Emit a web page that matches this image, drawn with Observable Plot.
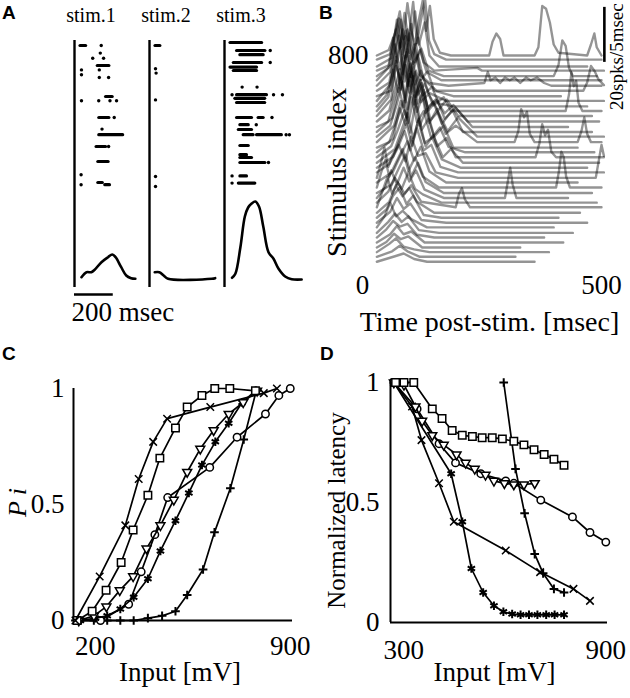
<!DOCTYPE html>
<html><head><meta charset="utf-8">
<script src="https://cdn.jsdelivr.net/npm/d3@7"></script>
<script src="https://cdn.jsdelivr.net/npm/@observablehq/plot@0.6"></script>
<style>
body{margin:0;background:#fff}
#fig{position:relative;width:630px;height:698px;overflow:hidden;background:#fff}
.panel{position:absolute}
.panel svg{overflow:visible}
.lab{position:absolute;font:bold 19px "Liberation Sans",Arial,sans-serif;line-height:1}
</style></head><body><div id="fig"></div>
<script>
// ---------- Panel A data ----------
const stimNames = ["stim.1", "stim.2", "stim.3"];
// bursts of spikes: [stimulus, trial row, first spike (ms), last spike (ms)]
const rasterBursts = [
  ["stim.1", 0, 31, 60], ["stim.1", 5, 120, 180], ["stim.1", 12.75, 163, 197], ["stim.1", 18, 128, 180],
  ["stim.1", 22.3, 128, 251], ["stim.1", 25.25, 114, 163], ["stim.1", 29, 123, 176], ["stim.1", 34.25, 123, 146], ["stim.1", 34.8, 159, 183],
  ["stim.2", 0, 31, 56],
  ["stim.3", -0.75, 31, 194], ["stim.3", 1.25, 65, 211], ["stim.3", 2.3, 82, 202], ["stim.3", 4.25, 48, 194],
  ["stim.3", 5.4, 31, 168], ["stim.3", 6.25, 48, 168], ["stim.3", 12.3, 65, 219], ["stim.3", 13.2, 56, 210],
  ["stim.3", 14.25, 65, 210], ["stim.3", 18, 65, 142], ["stim.3", 18, 176, 202], ["stim.3", 19.8, 82, 125],
  ["stim.3", 21, 74, 142], ["stim.3", 22.3, 99, 150], ["stim.3", 22.3, 168, 296], ["stim.3", 25, 82, 125],
  ["stim.3", 27.3, 82, 116], ["stim.3", 28, 82, 142], ["stim.3", 29.25, 82, 211], ["stim.3", 32.6, 82, 116], ["stim.3", 34.4, 74, 159]
];
// single spikes: [stimulus, trial row, time (ms)]
const rasterSpikes = [
  ["stim.1", 0, 138], ["stim.1", 1.9, 133], ["stim.1", 3.2, 94], ["stim.1", 3.2, 150], ["stim.1", 6.1, 36], ["stim.1", 6.1, 128],
  ["stim.1", 7.3, 36], ["stim.1", 8, 128], ["stim.1", 8, 176], ["stim.1", 13.8, 36], ["stim.1", 13.8, 125], ["stim.1", 13.8, 183], ["stim.1", 13.8, 217],
  ["stim.1", 18, 205], ["stim.1", 20.9, 142], ["stim.1", 25.25, 176], ["stim.1", 32.3, 34], ["stim.1", 34.8, 34],
  ["stim.2", 5.8, 31], ["stim.2", 6.9, 34], ["stim.2", 13.6, 31], ["stim.2", 32.75, 31], ["stim.2", 35.25, 31],
  ["stim.3", 1.25, 236], ["stim.3", 4.25, 236], ["stim.3", 10.4, 91], ["stim.3", 10.4, 168], ["stim.3", 12.3, 39],
  ["stim.3", 12.3, 253], ["stim.3", 12.3, 299], ["stim.3", 18, 245], ["stim.3", 19.8, 164], ["stim.3", 22.3, 318], ["stim.3", 22.3, 335],
  ["stim.3", 29.25, 227], ["stim.3", 32.6, 39], ["stim.3", 34.4, 39]
];
// PSTH per stimulus: [time (ms), rate (a.u.)]
const psthStim1 = [[36,2.3],[62,7.3],[87,7.3],[104,9.7],[139,17.3],[173,22.3],[195,25],[212,22.3],[241,12.3],[267,4],[292,1.3],[314,0.7]];
const psthStim2 = [[27,7.3],[51,7.3],[73,4],[96,0.7],[322,0.7],[339,1.3]];
const psthStim3 = [[39,1.7],[56,5.7],[82,32.3],[105,63],[122,72],[140,76],[159,78],[178,73],[200,53],[227,27.3],[253,20.7],[279,10.7],[313,3],[347,0.3],[398,0]];
const scaleBarMs = 200;

// ---------- Panel B data ----------
const bIndex = [800,785,760,745,725,710,690,672,652,635,615,598,580,560,540,522,505,485,465,448,430,410,392,375,355,338,320,300,282,265,248,228,210,192,175,155,138,120,102,85,68,50];
// each trace: [time (ms), rate (spks/5msec)]
const bShapes = [
  [[30,0],[55,2],[68,8],[78,16],[86,6],[94,19],[102,9],[110,4],[118,13],[126,20],[133,9],[141,18],[149,6],[162,1],[185,0],[265,0],[272,5],[280,8],[288,6],[295,0],[360,0],[368,3],[376,18],[384,17],[392,12],[400,4],[410,1],[470,0],[478,4],[485,8],[490,3],[500,0]],
  [[30,0],[58,2],[70,11],[78,4],[88,17],[96,7],[106,21],[114,6],[122,14],[131,22],[139,7],[150,2],[175,0],[500,0]],
  [[30,0],[60,3],[72,17],[80,7],[90,13],[98,5],[110,20],[118,8],[130,16],[140,4],[160,0],[470,0]],
  [[30,0],[56,2],[66,10],[76,19],[84,6],[94,15],[102,4],[116,12],[128,3],[150,0],[240,1],[250,0],[505,0]],
  [[30,0],[54,3],[64,14],[73,5],[84,17],[92,7],[102,19],[110,5],[123,10],[138,2],[170,0],[400,0],[410,4],[418,13],[425,11],[432,3],[440,0],[490,0]],
  [[30,0],[62,6],[70,13],[80,22],[88,8],[98,17],[106,6],[120,11],[134,3],[165,0],[500,0]],
  [[30,0],[58,5],[68,15],[78,6],[90,18],[98,9],[108,15],[120,4],[140,1],[180,0],[255,1],[262,5],[268,2],[278,3],[288,1],[298,3],[308,2],[318,3],[330,1],[342,3],[352,2],[365,3],[380,1],[395,0],[500,0]],
  [[30,0],[56,3],[66,12],[76,20],[84,6],[94,15],[102,5],[116,13],[128,4],[155,0],[462,0],[470,3],[478,9],[486,7],[494,4],[505,2]],
  [[30,0],[60,2],[70,11],[80,6],[92,16],[100,7],[112,19],[122,6],[136,9],[150,2],[190,0],[415,0]],
  [[30,0],[58,6],[68,13],[78,21],[88,7],[100,14],[110,6],[122,11],[138,3],[175,0],[505,0]],
  [[30,0],[50,4],[60,10],[70,18],[80,6],[90,15],[98,5],[112,13],[126,4],[145,7],[160,1],[190,0],[470,0]],
  [[30,0],[54,5],[64,15],[74,7],[86,20],[94,9],[106,18],[116,6],[130,10],[148,2],[170,5],[185,0],[425,0],[432,6],[437,14],[442,9],[447,11],[452,3],[460,0],[500,0]],
  [[30,0],[60,6],[70,20],[80,10],[90,22],[98,11],[110,16],[122,5],[138,8],[158,2],[176,6],[200,0],[480,0]],
  [[30,0],[56,4],[68,12],[78,19],[88,8],[100,21],[110,9],[122,15],[136,5],[153,8],[172,3],[190,6],[220,0],[495,0]],
  [[30,0],[54,2],[68,11],[80,18],[90,9],[102,20],[112,11],[124,16],[138,6],[156,10],[172,3],[195,7],[230,0],[430,0]],
  [[30,0],[62,5],[76,16],[86,9],[98,21],[108,10],[120,19],[132,7],[148,11],[166,3],[188,8],[210,0],[480,0]],
  [[30,0],[58,4],[72,12],[84,20],[94,10],[106,22],[116,12],[128,17],[142,6],[158,9],[178,2],[200,7],[240,0],[505,0]],
  [[30,0],[66,6],[80,15],[92,9],[104,21],[114,11],[126,17],[140,7],[156,12],[174,3],[195,6],[240,0],[318,0],[326,4],[332,12],[338,9],[344,11],[350,3],[360,0],[450,0],[458,4],[464,9],[470,3],[478,0],[500,0]],
  [[30,0],[56,2],[74,11],[86,17],[96,9],[108,19],[120,8],[134,14],[150,4],[170,8],[190,0],[450,0]],
  [[30,0],[64,5],[78,16],[90,10],[102,20],[114,11],[128,15],[144,5],[162,9],[180,2],[215,0],[485,0]],
  [[30,0],[60,4],[74,10],[88,17],[100,9],[112,21],[124,10],[138,14],[156,4],[176,7],[195,0],[362,0],[370,5],[376,12],[382,8],[388,10],[395,2],[405,0],[505,0]],
  [[30,0],[68,5],[82,12],[94,18],[106,9],[118,16],[132,6],[148,10],[168,2],[185,5],[210,0],[495,0]],
  [[30,0],[64,4],[80,11],[92,16],[104,8],[116,17],[130,9],[146,11],[166,3],[205,0],[470,0]],
  [[30,0],[56,3],[74,9],[88,15],[100,8],[114,16],[128,8],[144,10],[163,2],[200,0],[505,0]],
  [[30,0],[38,5],[46,11],[54,4],[62,8],[76,12],[90,6],[102,15],[116,8],[132,9],[153,2],[200,0],[488,0],[494,6],[500,12],[505,8]],
  [[30,0],[64,4],[80,10],[94,15],[108,8],[122,13],[140,4],[175,0],[450,0]],
  [[30,0],[40,6],[48,10],[56,4],[70,9],[84,14],[96,6],[110,11],[126,4],[160,0],[405,0],[411,6],[416,13],[421,11],[426,4],[434,0],[500,0]],
  [[30,0],[60,3],[76,9],[90,14],[102,6],[116,11],[132,4],[170,0],[480,0]],
  [[30,0],[48,4],[60,10],[72,5],[86,11],[98,6],[112,10],[130,3],[170,0],[298,0],[304,6],[309,11],[314,5],[322,0],[430,0]],
  [[30,0],[54,4],[68,9],[82,5],[96,11],[110,5],[126,3],[165,0],[490,0]],
  [[30,0],[42,6],[52,11],[62,5],[74,9],[88,5],[102,8],[123,2],[195,0],[202,5],[208,7],[214,3],[225,0],[500,0]],
  [[30,0],[56,4],[70,10],[84,6],[98,9],[114,4],[150,0],[455,0]],
  [[30,0],[50,3],[64,8],[78,11],[92,5],[106,8],[128,1],[165,0],[410,0]],
  [[30,0],[58,4],[72,9],[86,5],[100,7],[123,1],[175,0],[470,0]],
  [[30,0],[46,4],[58,9],[70,4],[84,6],[102,3],[135,0],[400,0]],
  [[30,0],[54,4],[68,7],[82,4],[96,6],[118,1],[160,0],[440,0]],
  [[30,0],[50,3],[64,6],[78,4],[94,5],[114,1],[150,0],[380,0]],
  [[30,0],[58,3],[72,6],[86,3],[102,4],[130,0],[420,0]],
  [[30,0],[50,2],[66,5],[80,3],[96,4],[125,0],[330,0]],
  [[30,0],[56,3],[70,5],[86,2],[108,1],[140,0],[390,0]],
  [[30,0],[62,2],[78,4],[94,2],[120,0],[320,0]],
  [[30,0],[68,2],[86,3],[108,1],[135,0],[360,0]]
];
const spkUnit = 10;          // stimulus-index units per spk/5msec (scale bar: 20 spks/5msec)
const bScaleBar = [775, 975];

// ---------- Panel C data: [input mV, Pi] ----------
const cTimes = [[129,0],[216,0.19],[308,0.41],[356,0.61],[408,0.77],[458,0.87],[613,0.92],[805,0.98],[852,1]];
const cSquares = [[135,0],[189,0.04],[239,0.13],[293,0.25],[336,0.39],[389,0.54],[432,0.70],[488,0.83],[530,0.92],[583,0.97],[629,1],[683,1],[775,0.99]];
const cTriangles = [[141,0],[195,0.02],[240,0.06],[288,0.13],[336,0.19],[384,0.31],[434,0.41],[482,0.52],[530,0.64],[577,0.74],[625,0.82],[679,0.89],[731,0.94],[781,0.99]];
const cAsterisks = [[147,0],[201,0.01],[243,0.02],[290,0.05],[338,0.10],[389,0.18],[434,0.30],[488,0.43],[536,0.55],[583,0.67],[631,0.77],[679,0.85],[727,0.94],[775,0.99]];
const cCircles = [[141,0],[219,0],[320,0.07],[365,0.21],[414,0.37],[460,0.53],[611,0.66],[709,0.79],[811,0.89],[859,0.97],[900,1]];
const cPluses = [[129,0],[195,0],[243,0],[290,0],[338,0],[389,0.01],[440,0.02],[488,0.04],[530,0.11],[587,0.22],[628,0.38],[685,0.57],[733,0.78],[778,0.99]];

// ---------- Panel D data: [input mV, normalized latency] ----------
const dSquares = [[276,1],[301,1],[330,1],[385,0.89],[414,0.85],[444,0.80],[474,0.78],[504,0.775],[533,0.77],[563,0.77],[593,0.765],[627,0.755],[657,0.74],[687,0.72],[717,0.70],[746,0.68],[776,0.655]];
const dTriangles = [[271,1],[301,0.99],[335,0.90],[355,0.84],[385,0.78],[419,0.74],[457,0.70],[484,0.665],[511,0.64],[543,0.615],[568,0.59],[599,0.58],[627,0.575],[657,0.575],[689,0.58]];
const dCircles = [[271,1],[340,0.89],[405,0.745],[454,0.665],[529,0.62],[603,0.59],[627,0.58],[707,0.51],[801,0.44],[853,0.375],[900,0.335]];
const dTimes = [[271,1],[325,0.90],[353,0.76],[405,0.58],[449,0.42],[603,0.30],[705,0.21],[804,0.14],[853,0.09]];
const dAsterisks = [[271,1],[441,0.62],[474,0.42],[501,0.225],[536,0.125],[568,0.07],[596,0.045],[622,0.035],[647,0.032],[672,0.032],[697,0.032],[723,0.032],[748,0.032],[776,0.032]];
const dPluses = [[597,1],[632,0.64],[659,0.455],[689,0.285],[714,0.205],[746,0.14],[776,0.125]];

// ---------- helpers ----------
const serif = '"Liberation Serif","Times New Roman",serif';
const svgStyle = {fontFamily: serif, fontSize: "27px", background: "transparent", overflow: "visible", color: "black"};
const triangleDown = {draw(ctx, size) {
  const a = Math.sqrt(size * 4 / Math.sqrt(3)), h = a * Math.sqrt(3) / 2;
  ctx.moveTo(-a / 2, -h / 3); ctx.lineTo(a / 2, -h / 3); ctx.lineTo(0, 2 * h / 3); ctx.closePath();
}};
const markerStyle = {
  square: {symbol: "square", r: 4.2, fill: "white", strokeWidth: 1.5},
  triangle: {symbol: triangleDown, r: 3.3, fill: "white", strokeWidth: 1.5},
  circle: {symbol: "circle", r: 3.7, fill: "white", strokeWidth: 1.5},
  times: {symbol: "times", r: 3.5, fill: "none", strokeWidth: 1.5},
  plus: {symbol: "plus", r: 2.9, fill: "none", strokeWidth: 2},
  asterisk: {symbol: "asterisk", r: 4, fill: "none", strokeWidth: 2}
};
function seriesMarks(data, kind) {
  return [
    Plot.line(data, {x: d => d[0], y: d => d[1], stroke: "black", strokeWidth: 1.7}),
    Plot.dot(data, {x: d => d[0], y: d => d[1], stroke: "black", ...markerStyle[kind]})
  ];
}
const vLabel = {rotate: -90, textAnchor: "middle", lineAnchor: "middle"};
const hLabel = {textAnchor: "middle", lineAnchor: "middle"};
const fig = document.getElementById("fig");
function place(node, left, top) {
  const div = document.createElement("div");
  div.className = "panel"; div.style.left = left + "px"; div.style.top = top + "px";
  div.appendChild(node); fig.appendChild(div);
}
function letter(txt, left, top) {
  const d = document.createElement("div");
  d.className = "lab"; d.textContent = txt; d.style.left = left + "px"; d.style.top = top + "px";
  fig.appendChild(d);
}

// ---------- Panel A: raster ----------
const facetOpts = {marginTop: 0, marginRight: 0, marginBottom: 0, marginLeft: 0};
const rasterPlot = Plot.plot({
  width: 315, height: 190, marginLeft: 73, marginRight: 15.5, marginTop: 40, marginBottom: 0,
  style: svgStyle, facet: facetOpts,
  fx: {domain: stimNames, padding: 0, axis: null},
  x: {domain: [0, 387], axis: null},
  y: {domain: [0, 36], range: [45, 189], axis: null},
  marks: [
    Plot.ruleX([0], {stroke: "black", strokeWidth: 2.4}),
    Plot.ruleY(rasterBursts, {fx: d => d[0], y: d => d[1], x1: d => d[2], x2: d => d[3], stroke: "black", strokeWidth: 3.2, strokeLinecap: "round"}),
    Plot.dot(rasterSpikes, {fx: d => d[0], y: d => d[1], x: d => d[2], r: 1.7, fill: "black", stroke: null}),
    Plot.text(stimNames, {fx: d => d, x: 85, text: d => d, frameAnchor: "top", dy: -25, fontSize: 20, ...hLabel})
  ]
});
place(rasterPlot, 0, 0);

// ---------- Panel A: PSTH ----------
const psthData = [psthStim1, psthStim2, psthStim3].flatMap((arr, i) => arr.map(([t, r]) => ({stim: stimNames[i], t, r})));
const psthPlot = Plot.plot({
  width: 315, height: 140, marginLeft: 73, marginRight: 15.5, marginTop: 0, marginBottom: 43,
  style: svgStyle, facet: facetOpts,
  fx: {domain: stimNames, padding: 0, axis: null},
  x: {domain: [0, 387], axis: null},
  y: {domain: [0, 78], range: [89, 11], axis: null},
  marks: [
    Plot.ruleX([0], {stroke: "black", strokeWidth: 2.4}),
    Plot.line(psthData, {fx: "stim", x: "t", y: "r", stroke: "black", strokeWidth: 2.6, curve: "catmull-rom"}),
    Plot.ruleY([{stim: "stim.1"}], {fx: "stim", y: -15, x1: 0, x2: scaleBarMs, stroke: "black", strokeWidth: 2.4}),
    Plot.text([{stim: "stim.1", label: scaleBarMs + " msec"}], {fx: "stim", x: -15, y: -33, text: "label", textAnchor: "start", lineAnchor: "middle", fontSize: 27})
  ]
});
place(psthPlot, 0, 190);

// ---------- Panel B ----------
const bData = bIndex.flatMap((idx, i) => bShapes[i].map(([t, r]) => ({id: i, t, y: idx + r * spkUnit})));
const bPlot = Plot.plot({
  width: 315, height: 330, marginLeft: 47, marginRight: 29, marginTop: 55, marginBottom: 55,
  style: svgStyle,
  x: {domain: [0, 500]},
  y: {domain: [0, 800]},
  marks: [
    Plot.line(bData, {x: "t", y: "y", z: "id", stroke: "black", strokeOpacity: 0.42, strokeWidth: 2.4}),
    Plot.ruleX([506], {y1: bScaleBar[0], y2: bScaleBar[1], stroke: "black", strokeWidth: 2.6}),
    Plot.text(["20spks/5msec"], {x: 506, y: 796, dx: 13, fontSize: 19, ...vLabel}),
    Plot.axisX({ticks: [0, 500], tickSize: 0, tickPadding: -1, label: null}),
    Plot.axisY({ticks: [800], tickSize: 0, tickPadding: -6, label: null}),
    Plot.text(["Stimulus index"], {frameAnchor: "left", dx: -25, dy: 7, fontSize: 28, ...vLabel}),
    Plot.text(["Time post-stim. [msec]"], {frameAnchor: "bottom", dx: 7.5, dy: 47, fontSize: 28, ...hLabel})
  ]
});
place(bPlot, 315, 0);

// ---------- Panel C ----------
const cPlot = Plot.plot({
  width: 315, height: 368, marginLeft: 73, marginRight: 23, marginTop: 58, marginBottom: 78,
  style: svgStyle,
  x: {domain: [122, 908]},
  y: {domain: [0, 1]},
  marks: [
    Plot.ruleX([122], {stroke: "black", strokeWidth: 2}),
    Plot.ruleY([0], {stroke: "black", strokeWidth: 2}),
    ...seriesMarks(cPluses, "plus"),
    ...seriesMarks(cCircles, "circle"),
    ...seriesMarks(cAsterisks, "asterisk"),
    ...seriesMarks(cTriangles, "triangle"),
    ...seriesMarks(cSquares, "square"),
    ...seriesMarks(cTimes, "times"),
    Plot.axisX({ticks: [200, 900], tickSize: 0, tickPadding: 15, label: null}),
    Plot.axisY({ticks: [0, 0.5, 1], tickSize: 0, tickPadding: 9, tickFormat: d => String(d), label: null}),
    Plot.text(["P i"], {frameAnchor: "left", dx: -56, dy: -2, fontSize: 26, fontStyle: "italic", ...vLabel}),
    Plot.text(["Input [mV]"], {frameAnchor: "bottom", dx: -3, dy: 52, fontSize: 27, ...hLabel})
  ]
});
place(cPlot, 0, 330);

// ---------- Panel D ----------
const dPlot = Plot.plot({
  width: 315, height: 368, marginLeft: 75, marginRight: 23, marginTop: 52, marginBottom: 76,
  style: svgStyle,
  x: {domain: [261, 905]},
  y: {domain: [0, 1]},
  marks: [
    Plot.ruleX([261], {stroke: "black", strokeWidth: 2}),
    Plot.ruleY([0], {stroke: "black", strokeWidth: 2}),
    ...seriesMarks(dTimes, "times"),
    ...seriesMarks(dAsterisks, "asterisk"),
    ...seriesMarks(dPluses, "plus"),
    ...seriesMarks(dCircles, "circle"),
    ...seriesMarks(dTriangles, "triangle"),
    ...seriesMarks(dSquares, "square"),
    Plot.axisX({ticks: [300, 900], tickSize: 0, tickPadding: 17, label: null}),
    Plot.axisY({ticks: [0, 0.5, 1], tickSize: 0, tickPadding: 11, tickFormat: d => String(d), label: null}),
    Plot.text(["Normalized latency"], {frameAnchor: "left", dx: -54, dy: 8, fontSize: 25, ...vLabel}),
    Plot.text(["Input [mV]"], {frameAnchor: "bottom", dx: -4.5, dy: 50, fontSize: 27, ...hLabel})
  ]
});
place(dPlot, 315, 330);

letter("A", 2, 3);
letter("B", 319, 3);
letter("C", 2, 344);
letter("D", 320, 344);
</script></body></html>
